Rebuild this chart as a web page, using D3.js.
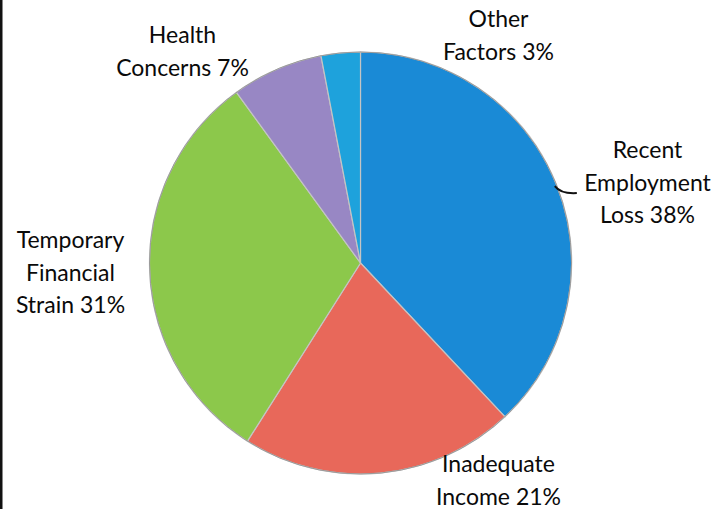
<!DOCTYPE html>
<html>
<head>
<meta charset="utf-8">
<script src="https://cdn.jsdelivr.net/npm/d3@7"></script>
<style>
  body { margin: 0; background: #fff; }
  svg { display: block; }
  .label { font-family: Lato, "Open Sans", sans-serif; font-size: 23px; fill: #0a0a0a; }
</style>
</head>
<body>
<div id="chart"></div>
<script>
// values, clockwise from 12 o'clock
const categories = ["Recent Employment Loss", "Inadequate Income", "Temporary Financial Strain", "Health Concerns", "Other Factors"];
const shares = [38, 21, 31, 7, 3];
const labelLines = [
  ["Recent", "Employment", "Loss 38%"],
  ["Inadequate", "Income 21%"],
  ["Temporary", "Financial", "Strain 31%"],
  ["Health", "Concerns 7%"],
  ["Other", "Factors 3%"]
];
const colors = ["#1a8ad6", "#e8685a", "#8cc84b", "#9887c4", "#1ea2dc"];

// label block placement relative to pie centre (first baseline)
const labelPlace = [
  { x: 287, y: -105 },
  { x: 138, y: 209 },
  { x: -290, y: -15 },
  { x: -178, y: -220 },
  { x: 138, y: -236 }
];

const width = 721, height = 509;
const cx = 360.5, cy = 263, radius = 211;

const svg = d3.select("#chart").append("svg")
  .attr("width", width)
  .attr("height", height);

// scanned page edge on the left
svg.append("rect").attr("x", 0).attr("y", 0).attr("width", 2.5).attr("height", height).attr("fill", "#111");

const g = svg.append("g").attr("transform", `translate(${cx},${cy})`);

const pie = d3.pie().sort(null).value(d => d);
const arcs = pie(shares);
const arc = d3.arc().innerRadius(0).outerRadius(radius);

g.selectAll("path.slice")
  .data(arcs)
  .enter().append("path")
  .attr("class", "slice")
  .attr("d", arc)
  .attr("fill", (d, i) => colors[i])
  .attr("stroke", "#c4c4c4")
  .attr("stroke-width", 1.2);

// outer rim
g.append("circle").attr("r", radius).attr("fill", "none").attr("stroke", "#9a9a9a").attr("stroke-width", 1);

// leader line for the first slice
const a0 = (arcs[0].startAngle + arcs[0].endAngle) / 2;
const p0 = [Math.sin(a0) * (radius - 2), -Math.cos(a0) * (radius - 2)];
const leader = d3.path();
leader.moveTo(p0[0], p0[1]);
leader.quadraticCurveTo(p0[0] + 6, p0[1] + 8, p0[0] + 22, p0[1] + 7);
g.append("path").attr("d", leader.toString()).attr("fill", "none").attr("stroke", "#111").attr("stroke-width", 2);

const labels = g.selectAll("text.label")
  .data(arcs)
  .enter().append("text")
  .attr("class", "label")
  .attr("text-anchor", "middle")
  .attr("transform", (d, i) => `translate(${labelPlace[i].x},${labelPlace[i].y})`);

labels.selectAll("tspan")
  .data((d, i) => labelLines[i])
  .enter().append("tspan")
  .attr("x", 0)
  .attr("dy", (d, j) => j === 0 ? 0 : 32.5)
  .text(d => d);
</script>
</body>
</html>
